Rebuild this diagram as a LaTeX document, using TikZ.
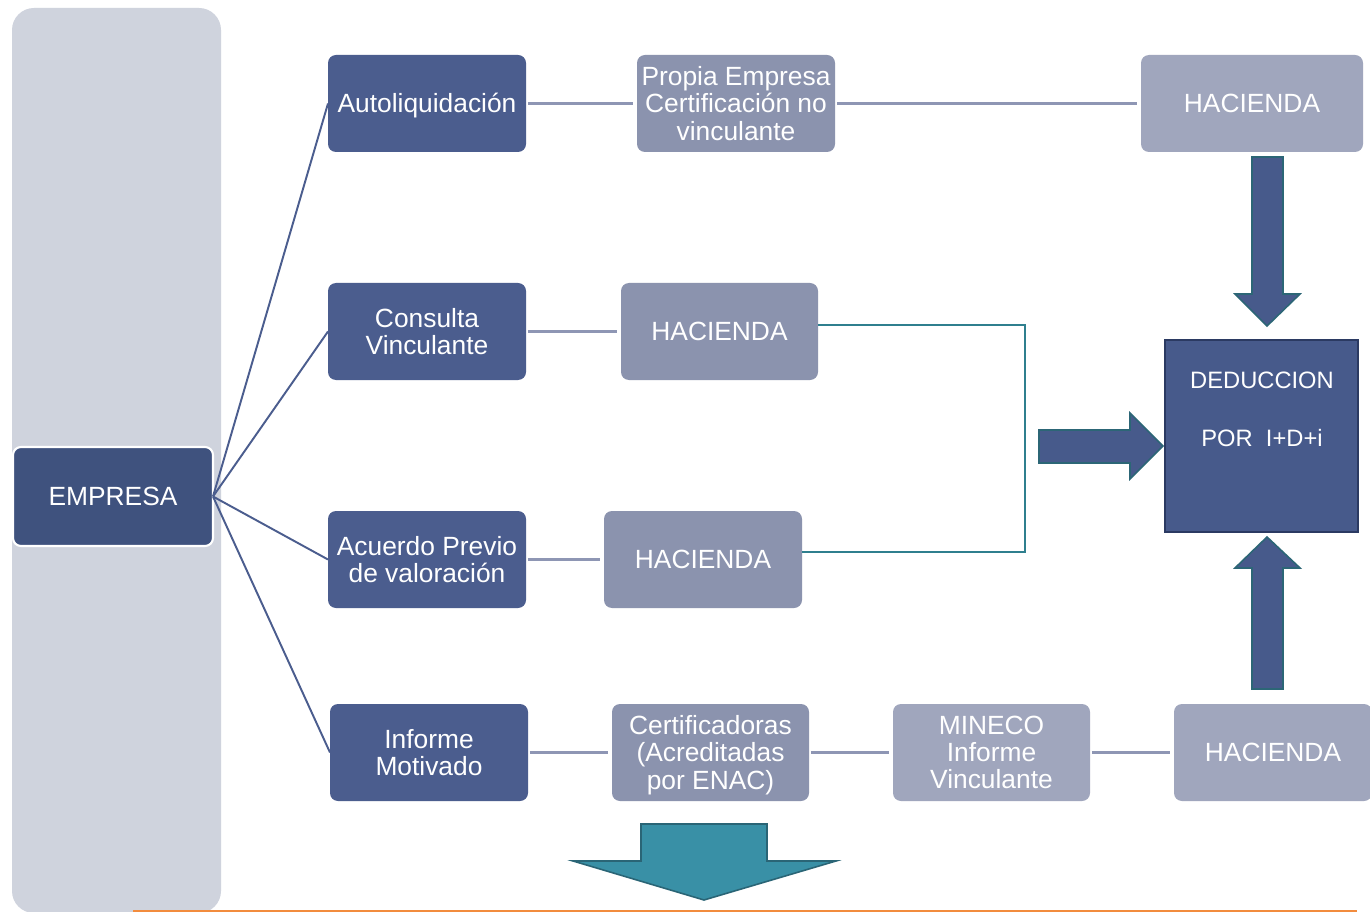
\documentclass[tikz,border=0pt]{standalone}
\usepackage{fontspec}
\setmainfont{Liberation Sans}
\definecolor{darkbox}{HTML}{4B5D8E}
\definecolor{empbox}{HTML}{3F527E}
\definecolor{midbox}{HTML}{8B93AE}
\definecolor{lightbox}{HTML}{A0A6BD}
\definecolor{pill}{HTML}{CFD3DD}
\definecolor{greyline}{HTML}{8E96B4}
\definecolor{navyline}{HTML}{4B5D8E}
\definecolor{tealline}{HTML}{2F7F8E}
\definecolor{arrfill}{HTML}{475A8B}
\definecolor{arredge}{HTML}{2C6676}
\definecolor{botfill}{HTML}{3990A6}
\definecolor{botedge}{HTML}{2A6576}
\definecolor{orangeline}{HTML}{F28C3E}
\definecolor{dedborder}{HTML}{2B3A62}
\newcommand\mybox[7]{%
  \pgfmathsetmacro\bw{(#4-#2)*0.02}%
  \pgfmathsetmacro\bh{(#5-#3)*0.02}%
  \node[#6, minimum width=\bw cm, minimum height=\bh cm] (#1) at ({(#2+#4)/2},{(#3+#5)/2}) {#7};}
\tikzset{
  basebox/.style={rounded corners=0.16cm, inner sep=0pt, outer sep=0pt, text=white, align=center,
    font=\fontsize{15}{15.6}\selectfont},
  darkb/.style={basebox, fill=darkbox},
  midb/.style={basebox, fill=midbox},
  lightb/.style={basebox, fill=lightbox},
  empb/.style={basebox, fill=empbox, draw=white, line width=1.2pt},
  dedb/.style={inner sep=0pt, outer sep=0pt, fill=arrfill, draw=dedborder, line width=1pt},
  dedtext/.style={text=white, font=\fontsize{13.5}{15}\selectfont},
  navyconn/.style={draw=navyline, line width=1.1pt},
  greyconn/.style={draw=greyline, line width=1.6pt, shorten <=1pt, shorten >=2pt},
  tealconn/.style={draw=tealline, line width=1.1pt},
  bigarrow/.style={fill=arrfill, draw=arredge, line width=0.9pt, line join=miter},
  botarrow/.style={fill=botfill, draw=botedge, line width=0.9pt, line join=miter},
}
\begin{document}
\begin{tikzpicture}[x=0.02cm, y=-0.02cm]
\useasboundingbox (0,0) rectangle (1370,912);
\fill[white] (0,0) rectangle (1370,912);
% background pill
\fill[pill, rounded corners=0.44cm] (12,8) rectangle (221,913);
% orange bottom line
\draw[orangeline, line width=0.9pt] (133,911) -- (1357,911);

% boxes
\mybox{emp}{13}{447}{213}{546}{empb}{EMPRESA}
\mybox{auto}{328}{55}{526}{152}{darkb}{\raisebox{-5.4pt}[0pt][0pt]{Autoliquidación}}
\mybox{cons}{328}{283}{526}{380}{darkb}{Consulta\\Vinculante}
\mybox{acue}{328}{511}{526}{608}{darkb}{Acuerdo Previo\\de valoración}
\mybox{info}{330}{704}{528}{801}{darkb}{Informe\\Motivado}
\mybox{prop}{637}{55}{835}{152}{midb}{Propia Empresa\\Certificación no\\vinculante}
\mybox{hac1}{1141}{55}{1363}{152}{lightb}{HACIENDA}
\mybox{hac2}{621}{283}{818}{380}{midb}{HACIENDA}
\mybox{hac3}{604}{511}{802}{608}{midb}{HACIENDA}
\mybox{cert}{612}{704}{809}{801}{midb}{\rule{0pt}{13.5pt}Certificadoras\\(Acreditadas\\por ENAC)}
\mybox{mine}{893}{704}{1090}{801}{lightb}{MINECO\\Informe\\Vinculante}
\mybox{hac4}{1174}{704}{1372}{801}{lightb}{HACIENDA}
\mybox{ded}{1165}{340}{1358}{532}{dedb}{}
\node[dedtext] (dedt1) at (1262,380) {DEDUCCION};
\node[dedtext] (dedt2) at (1262,438) {POR~~I+D+i};

% connectors from EMPRESA
\draw[navyconn] (emp.east) -- (auto.west);
\draw[navyconn] (emp.east) -- (cons.west);
\draw[navyconn] (emp.east) -- (acue.west);
\draw[navyconn] (emp.east) -- (info.west);

% grey connectors
\draw[greyconn] (auto.east) -- (prop.west);
\draw[greyconn] (prop.east) -- (hac1.west);
\draw[greyconn] (cons.east) -- (hac2.west);
\draw[greyconn] (acue.east) -- (hac3.west);
\draw[greyconn] (info.east) -- (cert.west);
\draw[greyconn] (cert.east) -- (mine.west);
\draw[greyconn] (mine.east) -- (hac4.west);

% teal bracket
\coordinate (b1) at (1025,325);
\coordinate (b2) at (1025,552);
\draw[tealconn] (hac2.east |- b1) -- (b1) -- (b2) -- (hac3.east |- b2);

% big arrows
\draw[bigarrow] (1252,157) -- (1283,157) -- (1283,294) -- (1300,294) -- (1267,326) -- (1235,294) -- (1252,294) -- cycle;
\draw[bigarrow] (1039,430) -- (1130,430) -- (1130,413) -- (1163,446) -- (1130,479) -- (1130,463) -- (1039,463) -- cycle;
\draw[bigarrow] (1252,689) -- (1283,689) -- (1283,568) -- (1300,568) -- (1267,537) -- (1235,568) -- (1252,568) -- cycle;
% bottom arrow
\draw[botarrow] (641,824) -- (767,824) -- (767,861) -- (836,861) -- (704,900) -- (573,861) -- (641,861) -- cycle;
\end{tikzpicture}
\end{document}
